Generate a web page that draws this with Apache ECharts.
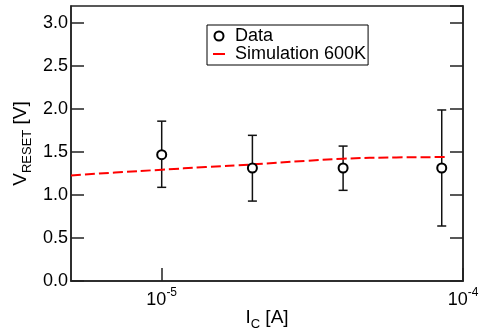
<!DOCTYPE html>
<html><head><meta charset="utf-8">
<script src="https://cdn.jsdelivr.net/npm/echarts@6/dist/echarts.min.js"></script>
<style>html,body{margin:0;padding:0;background:#fff}#c{width:479px;height:333px}</style>
</head><body><div id="c"></div>
<script>
const dataX = [1e-5, 2e-5, 4e-5, 8.5e-5];
const dataY = [1.47, 1.315, 1.315, 1.315];
const errLow = [1.09, 0.93, 1.055, 0.64];
const errHigh = [1.86, 1.695, 1.57, 1.99];
const simX = [5e-6, 7e-6, 1e-5, 1.4e-5, 2e-5, 3e-5, 4e-5, 6e-5, 8.9e-5];
const simY = [1.228, 1.262, 1.295, 1.326, 1.357, 1.398, 1.423, 1.438, 1.442];
const legendNames = ['Data', 'Simulation 600K'];

const FF = "'Liberation Sans', Arial, Helvetica, sans-serif";
const AX = '#222';
const chart = echarts.init(document.getElementById('c'));

const yCommon = {
  type: 'value', min: 0, max: 3.2, interval: 0.5,
  axisLine: { show: true, lineStyle: { color: AX, width: 1.5 } },
  axisTick: { show: true, inside: true, length: 13, lineStyle: { color: AX, width: 1.5 } },
  splitLine: { show: false }
};

chart.setOption({
  animation: false,
  backgroundColor: '#fff',
  textStyle: { fontFamily: FF },
  grid: { left: 71, right: 16, top: 6, bottom: 52, containLabel: false, outerBoundsMode: 'none', show: true, borderColor: AX, borderWidth: 1.5, backgroundColor: 'transparent' },
  legend: {
    orient: 'vertical', left: 207, top: 25,
    borderColor: '#000', borderWidth: 1, padding: [2, 2, 2, 6], itemGap: 0,
    itemWidth: 12, itemHeight: 9,
    textStyle: { fontSize: 18, color: '#000', fontFamily: FF, padding: [0, 0, 0, 5] },
    data: [
      { name: legendNames[0], icon: 'circle' },
      { name: legendNames[1], icon: 'path://M0,0H12V2H0Z' }
    ]
  },
  xAxis: {
    type: 'log', logBase: 10, min: 5e-6, max: 1e-4,
    axisLine: { show: true, lineStyle: { color: AX, width: 1.5 } },
    axisTick: { show: true, inside: true, length: 13, lineStyle: { color: AX, width: 1.5 } },
    splitLine: { show: false },
    minorTick: { show: false },
    axisLabel: {
      showMinLabel: false, margin: 6,
      formatter: function (v) {
        const e = Math.log10(v);
        if (Math.abs(e - Math.round(e)) > 1e-6) return '';
        return '{b|10}{s|' + Math.round(e) + '}';
      },
      rich: {
        b: { fontSize: 18, color: '#000', fontFamily: FF, verticalAlign: 'top', lineHeight: 22, padding: [4, 0, 0, 0] },
        s: { fontSize: 12, color: '#000', fontFamily: FF, verticalAlign: 'top', lineHeight: 14 }
      }
    },
    name: '{i|I}{s|C}{i| [A]}', nameLocation: 'middle', nameGap: 27, nameMoveOverlap: false,
    nameTextStyle: {
      rich: {
        i: { fontSize: 19, color: '#000', fontFamily: FF, verticalAlign: 'top', lineHeight: 22 },
        s: { fontSize: 13, color: '#000', fontFamily: FF, verticalAlign: 'top', lineHeight: 15, padding: [10, 0, 0, 0] }
      }
    }
  },
  yAxis: [
    Object.assign({}, yCommon, {
      position: 'left',
      axisLabel: { showMaxLabel: false, fontSize: 18, color: '#000', margin: 3, fontFamily: FF, formatter: v => v.toFixed(1) },
      name: '{i|V}{s|RESET}{i| [V]}', nameLocation: 'middle', nameGap: 38, nameRotate: 90, nameMoveOverlap: false,
      nameTextStyle: {
        rich: {
          i: { fontSize: 19, color: '#000', fontFamily: FF, verticalAlign: 'top', lineHeight: 22 },
          s: { fontSize: 13, color: '#000', fontFamily: FF, verticalAlign: 'top', lineHeight: 15, padding: [10, 0, 0, 0] }
        }
      }
    }),
    Object.assign({}, yCommon, { position: 'right', axisLabel: { show: false } })
  ],
  series: [
    {
      name: 'err', type: 'custom', z: 2,
      data: dataX.map((x, i) => [x, errLow[i], errHigh[i]]),
      encode: { x: 0, y: [1, 2] },
      renderItem: function (params, api) {
        const x = api.value(0);
        const lo = api.coord([x, api.value(1)]);
        const hi = api.coord([x, api.value(2)]);
        const w = 4.5;
        const st = { stroke: '#111', lineWidth: 1.5 };
        return {
          type: 'group', children: [
            { type: 'line', shape: { x1: lo[0], y1: lo[1], x2: hi[0], y2: hi[1] }, style: st },
            { type: 'line', shape: { x1: hi[0] - w, y1: hi[1], x2: hi[0] + w, y2: hi[1] }, style: st },
            { type: 'line', shape: { x1: lo[0] - w, y1: lo[1], x2: lo[0] + w, y2: lo[1] }, style: st }
          ]
        };
      }
    },
    {
      name: legendNames[1], type: 'line', z: 3, color: '#ff0000',
      data: simX.map((x, i) => [x, simY[i]]),
      symbol: 'none', smooth: true,
      lineStyle: { color: '#ff0000', width: 2, type: [10, 4] }
    },
    {
      name: legendNames[0], type: 'scatter', z: 4,
      data: dataX.map((x, i) => [x, dataY[i]]),
      symbol: 'circle', symbolSize: 9,
      itemStyle: { color: '#fff', borderColor: '#000', borderWidth: 2, opacity: 1 }
    }
  ]
});
</script>
</body></html>
